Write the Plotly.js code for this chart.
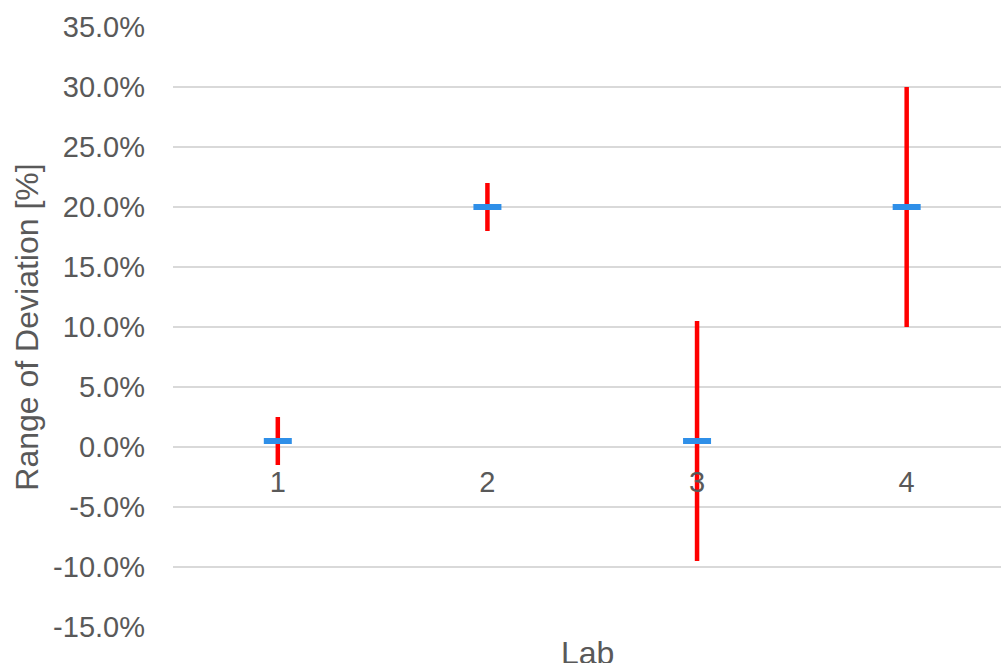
<!DOCTYPE html>
<html>
<head>
<meta charset="utf-8">
<script src="https://cdn.plot.ly/plotly-3.0.1.min.js"></script>
<style>html,body{margin:0;padding:0;background:#fff;}#chart{width:1001px;height:663px;}</style>
</head>
<body>
<div id="chart"></div>
<script>
const labs = [1, 2, 3, 4];
const labLabels = ["1", "2", "3", "4"];
const centerValues = [0.5, 20, 0.5, 20];
const errorPlus = [2, 2, 10, 10];
const errorMinus = [2, 2, 10, 10];
const yTicks = [-15, -10, -5, 0, 5, 10, 15, 20, 25, 30, 35];

const font = "Liberation Sans, Arial, sans-serif";
const gray = "#595959";

const trace = {
  type: "scatter",
  mode: "markers",
  x: labs,
  y: centerValues,
  marker: {symbol: "line-ew", size: 20, color: "#2f8fe8", line: {color: "#2f8fe8", width: 6}},
  error_y: {type: "data", symmetric: false, array: errorPlus, arrayminus: errorMinus,
            color: "#ff0000", thickness: 4.5, width: 0},
  showlegend: false,
  hoverinfo: "skip"
};

const layout = {
  width: 1001, height: 663,
  margin: {l: 173, r: 0, t: 27, b: 36},
  paper_bgcolor: "#ffffff", plot_bgcolor: "#ffffff",
  font: {family: font, color: gray, size: 29},
  showlegend: false,
  xaxis: {
    range: [0.5, 4.45],
    tickvals: labs, ticktext: labLabels,
    showgrid: false, zeroline: false, showline: false, ticks: "",
    anchor: "free", position: 0.3,
    tickfont: {family: font, size: 29, color: gray},
    ticklabelstandoff: 15,
    fixedrange: true
  },
  yaxis: {
    range: [-15, 35],
    tickvals: yTicks,
    ticktext: yTicks.map(v => v.toFixed(1) + "%"),
    showgrid: true, gridcolor: "#d9d9d9", gridwidth: 2,
    zeroline: false, showline: false, ticks: "",
    tickfont: {family: font, size: 29, color: gray},
    ticklabelstandoff: 27,
    title: {text: "Range of Deviation [%]", font: {family: font, size: 32, color: gray}, standoff: 4},
    fixedrange: true
  },
  annotations: [{
    text: "Lab", xref: "paper", yref: "paper", x: 0.5, y: 0, xanchor: "center", yanchor: "top",
    yshift: -6, showarrow: false, font: {family: font, size: 32, color: gray}
  }]
};

Plotly.newPlot("chart", [trace], layout, {displayModeBar: false, staticPlot: true});
</script>
</body>
</html>
